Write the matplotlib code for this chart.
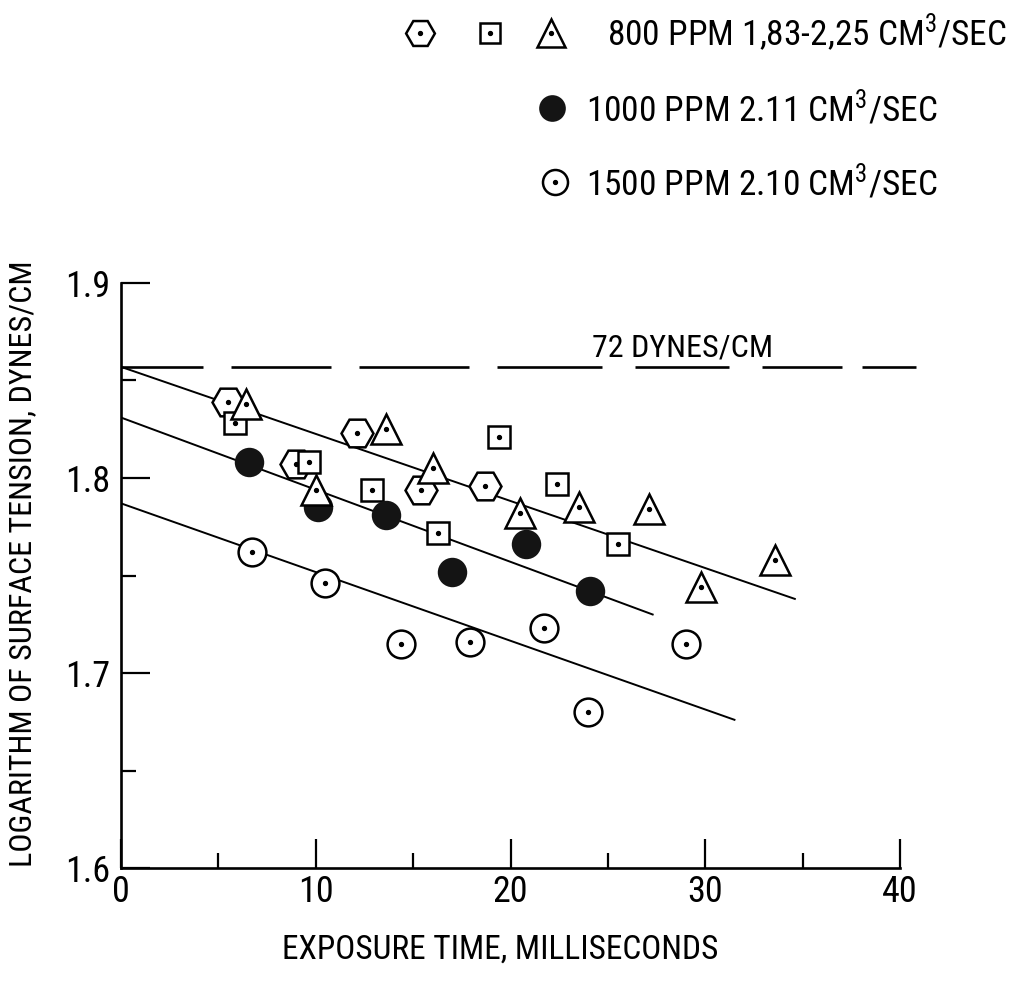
"""Surface tension vs exposure time, redrawn from a scanned figure."""

import matplotlib
matplotlib.use("Agg")
import matplotlib.pyplot as plt

FONT = ["Roboto Condensed", "DejaVu Sans"]
plt.rcParams["font.family"] = FONT
plt.rcParams["font.stretch"] = "condensed"
plt.rcParams["mathtext.fontset"] = "custom"
plt.rcParams["mathtext.rm"] = FONT[0]
plt.rcParams["mathtext.default"] = "rm"
plt.rcParams["lines.scale_dashes"] = False

# --- data (x = ms, y = log10 dynes/cm) ---
hex_x = [5.5, 9.0, 12.1, 15.4, 18.7]
hex_y = [1.839, 1.807, 1.823, 1.794, 1.796]

sq_x = [5.85, 9.65, 12.9, 16.3, 19.4, 22.4, 25.5]
sq_y = [1.828, 1.808, 1.794, 1.772, 1.821, 1.797, 1.766]

tri_x = [6.4, 10.0, 13.6, 16.0, 20.5, 23.5, 27.1, 29.8, 33.6]
tri_y = [1.838, 1.794, 1.825, 1.805, 1.782, 1.785, 1.784, 1.744, 1.758]

ppm1000_x = [6.55, 10.1, 13.6, 17.0, 20.8, 24.1]
ppm1000_y = [1.808, 1.785, 1.781, 1.752, 1.766, 1.742]

ppm1500_x = [6.75, 10.5, 14.4, 17.9, 21.7, 24.0, 29.0]
ppm1500_y = [1.762, 1.746, 1.715, 1.716, 1.723, 1.680, 1.715]

# fitted lines: start/end points
fit_x0 = [0.0, 0.0, 0.0]
fit_x1 = [34.6, 27.3, 31.5]
fit_y0 = [1.857, 1.831, 1.787]
fit_y1 = [1.738, 1.730, 1.676]

water_log = 1.857          # log10(72)
water_x_end = 40.8
water_label = "72 DYNES/CM"

legend_labels = [
    "800 PPM 1,83-2,25 CM$^3$/SEC",
    "1000 PPM 2.11 CM$^3$/SEC",
    "1500 PPM 2.10 CM$^3$/SEC",
]

xticks = [0, 10, 20, 30, 40]
yticks = [1.6, 1.7, 1.8, 1.9]

# --- marker styles ---
OPEN = dict(ls="none", mfc="white", mec="black", mew=1.8)
STYLE_HEX = dict(marker="H", ms=23, **OPEN)
STYLE_SQ = dict(marker="s", ms=16, **OPEN)
STYLE_TRI = dict(marker="^", ms=22, **OPEN)
STYLE_OPEN = dict(marker="o", ms=20, **OPEN)
STYLE_FILL = dict(marker="o", ms=20, ls="none", mfc="#141414", mec="#141414", mew=1.2)
DOT = dict(marker="o", ms=2.8, ls="none", color="black")


def dotted(ax, x, y, style, z):
    ax.plot(x, y, zorder=z, clip_on=False, **style)
    if style["mfc"] == "white":
        ax.plot(x, y, zorder=z + 0.05, clip_on=False, **DOT)


W, H = 1023, 981
fig = plt.figure(figsize=(W / 100, H / 100), dpi=100)
ax = fig.add_axes([121 / W, 1 - 868 / H, 779 / W, 585 / H])

ax.set_xlim(0, 40)
ax.set_ylim(1.6, 1.9)

for x0, x1, y0, y1 in zip(fit_x0, fit_x1, fit_y0, fit_y1):
    ax.plot([x0, x1], [y0, y1], color="black", lw=1.4, zorder=2)

# dashed reference line for pure water, hand-drawn irregular dashes (px -> pt)
dash_px = [82, 28, 100, 28, 110, 28, 105, 33, 94, 33, 80, 20, 60, 200]
ax.plot([0, water_x_end], [water_log, water_log], color="black", lw=1.9,
        dashes=[d * 0.72 for d in dash_px], clip_on=False, zorder=2)
ax.text(24.2, water_log + 0.002, water_label, fontsize=23,
        ha="left", va="bottom")

dotted(ax, hex_x, hex_y, STYLE_HEX, 3)
dotted(ax, sq_x, sq_y, STYLE_SQ, 4)
dotted(ax, ppm1000_x, ppm1000_y, STYLE_FILL, 5)
dotted(ax, tri_x, tri_y, STYLE_TRI, 6)
dotted(ax, ppm1500_x, ppm1500_y, STYLE_OPEN, 7)

# axes cosmetics: only left/bottom, ticks pointing inward
for s in ("top", "right"):
    ax.spines[s].set_visible(False)
for s in ("left", "bottom"):
    ax.spines[s].set_linewidth(1.9)
ax.set_xticks(xticks)
ax.set_xticks([5, 15, 25, 35], minor=True)
ax.set_yticks(yticks)
ax.set_yticks([1.65, 1.75, 1.85], minor=True)
ax.set_xticklabels([str(t) for t in xticks])
ax.set_yticklabels([f"{t:.1f}" for t in yticks])
ax.tick_params(which="major", direction="in", length=21, width=1.6,
               labelsize=26)
ax.tick_params(which="minor", direction="in", length=10.5, width=1.6)
ax.tick_params(axis="x", pad=4)
ax.tick_params(axis="y", pad=8)

ax.set_xlabel("EXPOSURE TIME, MILLISECONDS", fontsize=24)
ax.set_ylabel("LOGARITHM OF SURFACE TENSION, DYNES/CM", fontsize=23)
ax.xaxis.set_label_coords(0.4865, -0.112)
ax.yaxis.set_label_coords(-0.108, 0.52)

# legend block at the top, laid out in figure pixels
lg = fig.add_axes([0, 0, 1, 1], zorder=10)
lg.set_xlim(0, W)
lg.set_ylim(H, 0)
lg.axis("off")
rows = [
    ([420, 490, 551], [STYLE_HEX, STYLE_SQ, STYLE_TRI], 33, 607),
    ([552], [STYLE_FILL], 108, 586),
    ([555], [STYLE_OPEN], 182, 586),
]
for (xs, styles, yc, tx), label in zip(rows, legend_labels):
    for xm, st in zip(xs, styles):
        smaller = dict(st)
        smaller["ms"] = st["ms"] * 0.9
        dotted(lg, [xm], [yc], smaller, 3)
    lg.text(tx, yc, label, fontsize=25.5, ha="left", va="center")

fig.savefig("out.png", dpi=100)
